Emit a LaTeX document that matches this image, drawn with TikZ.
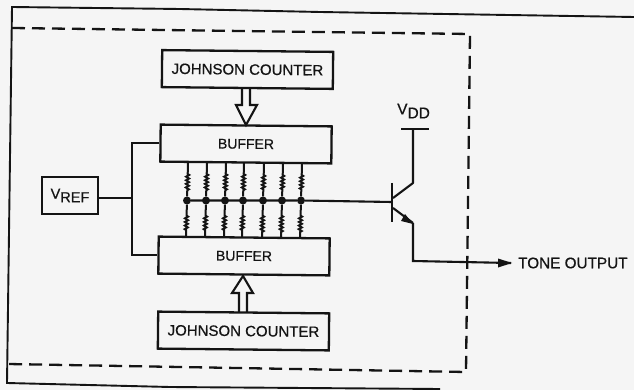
\documentclass[tikz,border=0pt]{standalone}
\usepackage{fontspec}
\setmainfont[RawFeature={embolden=0.6}]{Liberation Sans}
\usetikzlibrary{decorations.pathmorphing,arrows.meta,calc}
\definecolor{paper}{HTML}{F5F5F5}
\definecolor{inkk}{HTML}{141414}
\tikzset{
  wire/.style={draw=inkk,line width=2.1pt},
  frame/.style={draw=inkk,line width=1.9pt},
  dashframe/.style={draw=inkk,line width=2.3pt,dash pattern=on 13pt off 7pt},
  block/.style={draw=inkk,line width=2.3pt,fill=none,rotate=-0.6,inner sep=0pt,text=inkk,align=center},
  lbl/.style={text=inkk,inner sep=0pt},
  fatarrow/.style={draw=inkk,line width=2.1pt,line join=miter},
  resistor/.style={draw=inkk,line width=2pt,decorate,decoration={zigzag,segment length=3.6pt,amplitude=1.5pt,pre length=11pt,post length=6pt}},
  dot/.style={circle,fill=inkk,inner sep=0pt,minimum size=8pt},
}
\begin{document}
\begin{tikzpicture}[x=1pt,y=-1pt]
\path[fill=paper,use as bounding box] (0,0) rectangle (634,390);
% outer frame
\coordinate (ftr) at (634,17);
\coordinate (ftl) at (12,7);
\coordinate (fbl) at (7,383);
\coordinate (fbr) at (440,389);
\draw[frame] (ftr) -- (320,12) -- (180,9) -- (ftl) -- (fbl) -- (170,387) -- (fbr);
% dashed enclosure
\coordinate (dtl) at (12,28);
\coordinate (dtr) at (470,34);
\coordinate (dbr) at (466,372);
\coordinate (dbl) at (8,364);
\draw[dashframe] (dtl) -- (dtr) -- (dbr) -- (dbl);
% blocks
\node[block,minimum width=171pt,minimum height=37pt,font=\fontsize{15}{15}\selectfont] (jc1) at (247.5,69.5) {JOHNSON COUNTER};
\node[block,minimum width=171pt,minimum height=37pt,font=\fontsize{14}{14}\selectfont] (b1) at (246,144) {BUFFER};
\node[block,minimum width=171pt,minimum height=37pt,font=\fontsize{14}{14}\selectfont] (b2) at (244,256) {BUFFER};
\node[block,minimum width=171pt,minimum height=37pt,font=\fontsize{15}{15}\selectfont] (jc2) at (243.5,331) {JOHNSON COUNTER};
\node[block,rotate=0.6,minimum width=56pt,minimum height=37pt,font=\fontsize{14.5}{14.5}\selectfont] (vref) at (70,195.5) {V\raisebox{-3.5pt}{REF}};
% hollow arrows
\draw[fatarrow] (242,88) -- (242,105) -- (236,105) -- (246,125) -- (257,105) -- (250,105) -- (250,88);
\draw[fatarrow] (239,312) -- (239,293) -- (232,293) -- (243,276) -- (253,293) -- (247,293) -- (247,312);
% Vref wiring
\coordinate (jn) at (132,198);
\coordinate (jt) at (132,143);
\coordinate (jb) at (132,255);
\draw[wire] (vref.east |- jn) -- (jn);
\draw[wire] (b1.west |- jt) -- (jt) -- (jb) -- (b2.west |- jb);
% resistor ladder
\foreach \n/\x/\tt/\bb in {1/187/163/237,2/206/163/237,3/225/163/237,4/243/163/237,5/263/164/238,6/282/164/238,7/301/164/238}{
  \node[dot] (d\n) at (\x,200.5) {};
  \coordinate (t\n) at (\x+1,\tt);
  \coordinate (u\n) at (\x-1,\bb);
  \draw[resistor] (t\n) -- (d\n);
  \draw[resistor] (d\n) -- (u\n);
}
% transistor
\coordinate (base) at (392,202);
\coordinate (bt) at (392,183);
\coordinate (bb) at (392,222);
\coordinate (cbend) at (413,183);
\coordinate (vc) at (413,129);
\coordinate (vl) at (401,129);
\coordinate (vr) at (429,129);
\coordinate (ebend) at (413,223);
\coordinate (ecorner) at (413,261);
\coordinate (out) at (511,263);
\draw[wire] (d1) -- (d7) -- (base);
\draw[wire,line width=2.4pt] (bt) -- (bb);
\draw[wire,line join=round] (393,198) -- (cbend) -- (vc);
\draw[wire] (vl) -- (vr);
\draw[wire] (393,208) -- (ebend);
\fill[inkk] (413,224) -- (401,221) -- (405,214) -- cycle;
\draw[wire] (ebend) -- (ecorner) -- (out);
\fill[inkk] (512,263) -- (498,258.5) -- (498,267.5) -- cycle;
% labels
\node[lbl,font=\fontsize{15.5}{15.5}\selectfont,anchor=west] (vdd) at (397,111) {V\raisebox{-4pt}{DD}};
\node[lbl,font=\fontsize{15.3}{15.3}\selectfont,anchor=west] (tone) at (518,263) {TONE OUTPUT};
\end{tikzpicture}
\end{document}
